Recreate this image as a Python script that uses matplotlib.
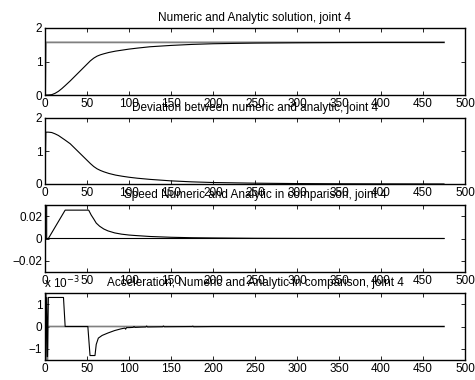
import matplotlib
matplotlib.use('Agg')
import matplotlib.pyplot as plt

plt.rcParams['font.family'] = ['Liberation Sans', 'DejaVu Sans']
plt.rcParams['font.size'] = 8.5
plt.rcParams['axes.unicode_minus'] = True

# position, numeric solution
pos_x = [0, 4, 8, 12, 16, 20, 24, 30, 40, 50, 54, 58, 62, 66, 70, 76, 84, 92,
         100, 110, 125, 150, 175, 200, 250, 300, 350, 400, 475]
pos_num = [0, 0, 0.01, 0.05, 0.11, 0.19, 0.28, 0.42, 0.67, 0.92, 1.02, 1.10,
           1.16, 1.20, 1.23, 1.27, 1.31, 1.34, 1.37, 1.40, 1.44, 1.48, 1.51,
           1.53, 1.55, 1.56, 1.566, 1.569, 1.5705]
# position, analytic solution
ana_x = [0, 1, 475]
pos_ana = [0, 1.5708, 1.5708]

# deviation numeric vs analytic
dev_x = [0, 1, 4, 8, 12, 16, 20, 24, 30, 40, 50, 54, 58, 62, 66, 70, 76, 84,
         92, 100, 110, 125, 150, 175, 200, 250, 300, 350, 400, 475]
dev = [0, 1.571, 1.571, 1.56, 1.52, 1.47, 1.40, 1.33, 1.22, 0.97, 0.72, 0.62,
       0.53, 0.46, 0.41, 0.37, 0.32, 0.27, 0.235, 0.205, 0.175, 0.14, 0.095,
       0.065, 0.045, 0.025, 0.013, 0.007, 0.004, 0.001]

# speed
spd_x = [0, 4, 24, 52, 55, 58, 61, 65, 70, 75, 83, 91, 100, 107, 125, 150,
         175, 200, 250, 300, 475]
spd_num = [0, 0, 0.0254, 0.0254, 0.021, 0.0175, 0.0138, 0.011, 0.0085,
           0.0068, 0.005, 0.0039, 0.0031, 0.0027, 0.0018, 0.0011, 0.0007,
           0.0005, 0.0002, 0.0001, 0]
spd_ana_x = [0, 1, 2, 475]
spd_ana = [0, 1.5708, 0, 0]

# acceleration (x 10^-3)
acc_x = [0, 1, 2, 3, 4, 22, 24, 51, 53.6, 59.5, 61, 63.5, 68, 75, 83, 90, 95,
         96, 97, 100, 105, 106, 107, 115, 120, 121, 122, 140, 141, 142, 175,
         176, 177, 200, 300, 400, 475]
acc_num = [0, -1.35, 1.3, -1.35, 1.3, 1.3, 0, 0, -1.3, -1.3, -0.8, -0.52,
           -0.4, -0.29, -0.18, -0.11, -0.07, -0.12, -0.05, -0.05, -0.04, 0.0,
           -0.04, -0.025, -0.02, 0.02, -0.02, -0.01, 0.02, -0.01, 0,
           0.015, -0.01, 0, 0, 0, 0]
acc_ana_x = [0, 1, 2, 3, 475]
acc_ana = [0, 1571, -1571, 0, 0]

titles = ['Numeric and Analytic solution, joint 4',
          'Deviation between numeric and analytic, joint 4',
          'Speed Numeric and Analytic in comparison, joint 4',
          'Acceleration, Numeric and Analytic in comparison, joint 4']

fig = plt.figure(figsize=(4.75, 3.8), dpi=100)
W, H = 475.0, 380.0
boxes = [(28, 95), (118, 184), (205, 272), (293, 360)]
axes = []
for top, bot in boxes:
    ax = fig.add_axes([45 / W, 1 - bot / H, 420 / W, (bot - top) / H])
    axes.append(ax)

ana_col = '0.5'
ax1, ax2, ax3, ax4 = axes
ax1.plot(ana_x, pos_ana, color=ana_col, lw=1.3)
ax1.plot(pos_x, pos_num, color='k', lw=0.8)
ax1.set_ylim(0, 2)
ax1.set_yticks([0, 1, 2])

ax2.plot(dev_x, dev, color='k', lw=0.8)
ax2.set_ylim(0, 2)
ax2.set_yticks([0, 1, 2])

ax3.plot(spd_ana_x, spd_ana, color='k', lw=0.8)
ax3.plot(spd_x, spd_num, color='k', lw=0.8)
ax3.set_ylim(-0.03, 0.03)
ax3.set_yticks([-0.02, 0, 0.02])
ax3.set_yticklabels(['\u22120.02', '0', '0.02'])

ax4.plot(acc_ana_x, acc_ana, color=ana_col, lw=1.2)
ax4.plot(acc_x, acc_num, color='k', lw=0.8)
ax4.set_ylim(-1.5, 1.5)
ax4.set_yticks([-1, 0, 1])
ax4.set_yticklabels(['\u22121', '0', '1'])
ax4.text(-0.003, 1.03, r'x 10$^{-3}$', transform=ax4.transAxes,
         ha='left', va='bottom', fontsize=8.5)

for ax, t in zip(axes, titles):
    ax.set_xlim(0, 500)
    ax.set_xticks(range(0, 501, 50))
    ax.set_title(t, fontsize=8.5, pad=5)
    ax.tick_params(direction='in', length=3, width=0.6, top=True, right=True,
                   labelsize=8.5, pad=2)
    for s in ax.spines.values():
        s.set_linewidth(1.0)

fig.savefig('out.png', dpi=100)
